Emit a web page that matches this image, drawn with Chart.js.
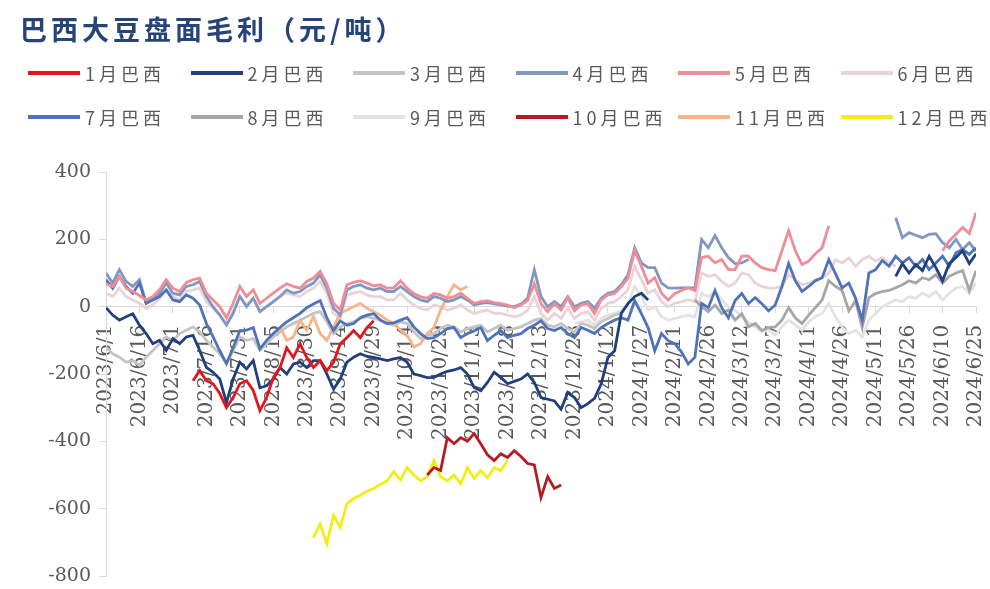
<!DOCTYPE html>
<html>
<head>
<meta charset="utf-8">
<script src="https://cdn.jsdelivr.net/npm/chart.js@4.4.1/dist/chart.umd.min.js"></script>
<style>
  html, body { margin: 0; padding: 0; background: #fff; }
  #wrap { position: relative; width: 990px; height: 589px; overflow: hidden; }
  #box { position: absolute; left: 0; top: 0; width: 990px; height: 589px; }
  #title { position: absolute; left: 20px; top: 9px; font: bold 27px "Noto Sans CJK SC"; color: #264478; letter-spacing: 4px; white-space: nowrap; }
  .item { position: absolute; height: 26px; display: flex; align-items: center; font: 18px "Noto Sans CJK SC"; color: #595959; letter-spacing: 4px; white-space: nowrap; }
  .item .swatch { display: inline-block; width: 52px; height: 4px; margin-right: 5px; }
</style>
</head>
<body>
<div id="wrap">
  <div id="box"><canvas id="myChart"></canvas></div>
  <div id="title">巴西大豆盘面毛利（元/吨）</div>
  <div id="legend"></div>
</div>
<script>
// x positions are days since 2023/6/1, one point every 3 days
const tickLabels = ['2023/6/1', '2023/6/16', '2023/7/1', '2023/7/16', '2023/7/31', '2023/8/15', '2023/8/30',
  '2023/9/14', '2023/9/29', '2023/10/14', '2023/10/29', '2023/11/13', '2023/11/28', '2023/12/13', '2023/12/28',
  '2024/1/12', '2024/1/27', '2024/2/11', '2024/2/26', '2024/3/12', '2024/3/27', '2024/4/11', '2024/4/26',
  '2024/5/11', '2024/5/26', '2024/6/10', '2024/6/25'];
const stepDays = 3;

const seriesNames = ['1月巴西', '2月巴西', '3月巴西', '4月巴西', '5月巴西', '6月巴西',
  '7月巴西', '8月巴西', '9月巴西', '10月巴西', '11月巴西', '12月巴西'];
const seriesColors = ['#E3161E', '#203F7E', '#C4C4C4', '#8097BF', '#F08C98', '#E9D3D8',
  '#4F72B8', '#A6A6A6', '#E3E3E3', '#B41B22', '#F4B58A', '#F2EE12'];
// first point of each series (in 3-day steps)
const seriesStart = [13, 0, 0, 0, 0, 0, 0, 88, 70, 48, 26, 31];
// higher = drawn earlier (underneath)
const seriesLayer = [3, 4, 11, 7, 5, 10, 6, 9, 12, 1, 8, 2];

const jan = [-220, -190, -220, -229, -258, -300, -270, -229, -220, -249, -309, -270, -211, -181,
  -122, -151, -110, -151, -181, -160, -190, -165, -110, -92, -71, -92, -62, -42];
const feb = [-3, -25, -40, -30, -21, -55, -80, -110, -100, -130,
  -95, -110, -90, -85, -130, -180, -195, -215, -285, -215,
  -165, -185, -160, -241, -235, -215, -181, -200, -170, -165,
  -181, -160, -160, -200, -245, -215, -165, -150, -140, -148,
  -151, -155, -160, -155, -151, -165, -200, -205, -211, -210,
  -200, -192, -188, -181, -200, -240, -250, -225, -195, -210,
  -229, -222, -215, -200, -225, -270, -275, -280, -305, -255,
  -270, -300, -288, -272, -229, -151, -131, -20, 9, 30,
  40, 20,
  null, null, null, null, null, null, null, null, null, null, null, null,
  null, null, null, null, null, null, null, null, null, null, null, null,
  null, null, null, null, null, null, null, null, null, null, null, null,
  90, 128, 100, 125, 107, 150, 116, 77, 128, 146, 166, 128, 157];
const mar = [-120, -140, -150, -165, -160, -175, -150, -130, -110, -90,
  -100, -80, -70, -60, -75, -100, -120, -140, -170, -130,
  -90, -100, -95, -130, -110, -90, -75, -60, -50, -40,
  -30, -20, -15, -45, -80, -60, -50, -45, -35, -30,
  -35, -40, -50, -55, -45, -50, -75, -95, -85, -80,
  -65, -55, -60, -75, -65, -60, -55, -75, -65, -55,
  -70, -65, -60, -50, -40, -35, -55, -60, -50, -65,
  -75, -50, -55, -65, -45, -35, -25, -20];
const apr = [100, 70, 110, 75, 60, 80, 10, 25, 40, 70,
  40, 35, 60, 65, 75, 30, 0, -25, -55, -20,
  30, 0, 25, -15, 0, 15, 30, 50, 40, 45,
  60, 70, 95, 55, -5, -25, 50, 60, 65, 55,
  50, 55, 45, 45, 60, 45, 30, 20, 15, 30,
  25, 15, 20, 30, 20, 5, 10, 12, 8, 5,
  2, 0, 8, 25, 110, 30, 0, 15, 0, 30,
  0, 10, 15, -5, 25, 40, 45, 65, 95, 175,
  130, 116, 116, 70, 56, 55, 56, 56, 56, 200,
  175, 211, 175, 146, 128, 130, 140,
  null, null, null, null, null, null, null, null, null, null, null,
  null, null, null, null, null, null, null, null, null, null,
  264, 205, 220, 212, 205, 215, 217, 190, 175, 200, 170, 190, 165];
const may = [68, 60, 90, 55, 45, 33, 20, 30, 50, 80,
  55, 45, 72, 80, 85, 40, 20, 0, -33, 10,
  60, 30, 50, 10, 25, 40, 55, 68, 60, 55,
  75, 85, 105, 68, 10, -10, 65, 72, 77, 70,
  62, 65, 55, 56, 77, 55, 39, 30, 25, 39,
  35, 25, 30, 40, 25, 10, 15, 18, 12, 9,
  5, -3, 5, 18, 68, 9, -15, 9, -10, 27,
  -12, 5, 9, -20, 20, 35, 39, 60, 85, 166,
  120, 70, 86, 40, 20, 39, 48, 56, 48, 146,
  150, 130, 140, 110, 110, 150, 150, 130, 116, 110,
  107, 166, 226, 166, 125, 135, 157, 175, 240,
  null, null, null, null, null, null, null, null,
  null, null, null, null, null, null, null, null,
  166, 195, 215, 235, 217, 279];
const jun = [40, 30, 55, 30, 20, 10, -5, 5, 25, 50,
  30, 20, 45, 50, 55, 15, -5, -25, -50, -15,
  30, 5, 25, -15, 0, 15, 30, 40, 35, 30,
  45, 55, 75, 40, -20, -35, 35, 40, 45, 35,
  30, 30, 20, 20, 40, 20, 5, -5, -10, 5,
  0, -10, -5, 5, -10, -20, -15, -10, -20, -20,
  -25, -30, -25, -10, 30, -20, -40, -20, -35, -5,
  -35, -20, -15, -40, -5, 10, 15, 30, 50, 120,
  80, 40, 50, 15, 0, 10, 15, 20, 15, 100,
  90, 95, 75, 60, 70, 100, 95, 70, 60, 55,
  56, 60, 95, 80, 65, 70, 80, 85, 100, 140,
  130, 145, 120, 140, 150, 135, 145, 130, 120];
const jul = [80, 55, 90, 60, 40, 70, 10, 20, 30, 50,
  20, 15, 35, 25, 5, -50, -90, -131, -169, -122,
  -71, -70, -62, -125, -100, -80, -62, -45, -33, -20,
  -3, 8, 18, -33, -71, -42, -55, -50, -33, -25,
  -21, -40, -50, -48, -40, -33, -60, -80, -95, -92,
  -80, -65, -62, -92, -80, -72, -62, -101, -85, -71,
  -92, -85, -80, -65, -55, -42, -65, -71, -62, -80,
  -92, -62, -70, -80, -62, -50, -40, -33, -40, 18,
  -21, -62, -131, -80, -101, -110, -135, -170, -150, 10,
  -3, 48, -3, -33, 18, 39, 9, 27, 9, -12,
  5, 60, 128, 77, 45, 60, 77, 86, 140, 98,
  56, 70, 25, -40, 100, 110, 137, 120, 150, 130,
  145, 120, 140, 110, 130, 150, 120, 160, 170, 155, 175];
const aug = [20, 0, -15, 5, -20, -10, -40, -21, -60, -50,
  -71, -62, -60, -40, -3, -33, -50, -25, -3, 20,
  77, 60, 48, -12, 18, -62, 27, 39, 45, 48,
  56, 65, 77, 70, 86, 80, 95, 70, 90, 100,
  107, 48, 107];
const sep = [-50, -45, -40, -55, -35, -25, -20, -10, 10, 60,
  30, -10, 0, -30, -40, -35, -30, -25, -30, 40,
  30, 45, 20, 0, -10, -30, -45, -60, -75, -70,
  -85, -60, -40, -55, -70, -45, -30, -20, 10, -30,
  -60, -80, -70, -90, -40, -20, 0, 10, 20, 15,
  30, 25, 40, 30, 45, 20, 40, 55, 60, 40, 70];
const oct = [-500, -478, -487, -389, -407, -389, -400, -377, -407, -440,
  -457, -437, -448, -428, -445, -466, -470, -567, -505, -540, -530];
const nov = [-60, -100, -90, -40, -70, -30, -80, -100, -60, -20,
  -10, 0, 10, -5, -15, -25, -40, -50, -70, -85,
  -120, -110, -80, -62, -10, 30, 65, 50, 60];
const dec = [-686, -645, -704, -620, -656, -585, -570, -560, -548, -540,
  -528, -517, -490, -515, -478, -500, -517, -505, -457, -505,
  -517, -500, -526, -478, -510, -487, -508, -478, -487, -457];

const seriesValues = [jan, feb, mar, apr, may, jun, jul, aug, sep, oct, nov, dec];

const datasets = seriesNames.map((name, s) => ({
  label: name,
  data: seriesValues[s].map((v, k) => ({ x: (seriesStart[s] + k) * stepDays, y: v })),
  borderColor: seriesColors[s],
  backgroundColor: seriesColors[s],
  borderWidth: 2.8,
  pointRadius: 0,
  tension: 0,
  fill: false,
  order: seriesLayer[s]
}));

// legend: two rows of six
const legendBox = document.getElementById('legend');
seriesNames.forEach((name, s) => {
  const item = document.createElement('div');
  item.className = 'item';
  item.style.left = (28 + 162.5 * (s % 6)) + 'px';
  item.style.top = (s < 6 ? 60 : 104) + 'px';
  item.innerHTML = '<span class="swatch" style="background:' + seriesColors[s] + '"></span>' + name;
  legendBox.appendChild(item);
});

// keep the tick labels from shrinking the plot area
const noPadding = scale => {
  scale.paddingLeft = 0;
  scale.paddingRight = 0;
  scale.paddingTop = 0;
  scale.paddingBottom = 0;
};

const grey = '#D9D9D9';
new Chart('myChart', {
  type: 'line',
  data: { datasets: datasets },
  options: {
    animation: false,
    responsive: true,
    maintainAspectRatio: false,
    layout: { padding: { top: 172, right: 14, bottom: 13, left: 0 } },
    plugins: { legend: { display: false }, tooltip: { enabled: false } },
    scales: {
      x: {
        type: 'linear',
        min: 0,
        max: 390,
        position: { y: 0 },
        border: { display: true, color: grey, width: 1 },
        grid: { display: true, drawOnChartArea: false, drawTicks: true, tickLength: 6, tickColor: grey },
        ticks: {
          stepSize: 15,
          autoSkip: false,
          minRotation: 90,
          maxRotation: 90,
          padding: 12,
          color: '#595959',
          font: { family: 'DejaVu Serif', size: 20 },
          callback: v => tickLabels[Math.round(v / 15)]
        },
        afterFit: noPadding
      },
      y: {
        min: -800,
        max: 400,
        border: { display: true, color: grey, width: 1 },
        grid: { display: true, drawOnChartArea: false, drawTicks: true, tickLength: 7, tickColor: grey },
        ticks: { stepSize: 200, padding: 8, color: '#595959', font: { family: 'DejaVu Serif', size: 19 } },
        afterFit: scale => { scale.width = 106; noPadding(scale); }
      }
    }
  }
});
</script>
</body>
</html>
